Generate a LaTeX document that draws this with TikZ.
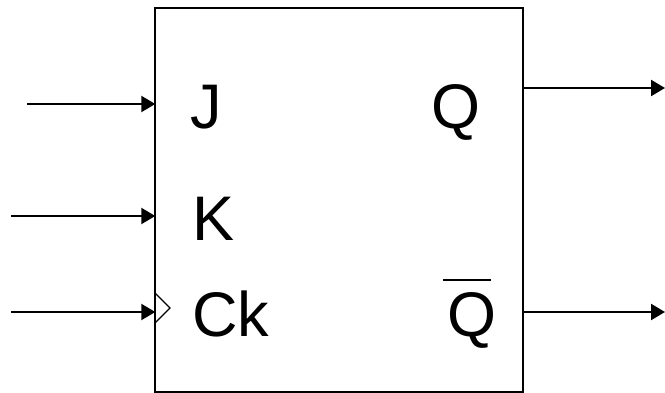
\documentclass[tikz,border=0pt]{standalone}
\usepackage{fontspec}
\setmainfont{Liberation Sans}
\usetikzlibrary{calc,arrows.meta}
\tikzset{
  sig/.style={line width=2.2pt,-{Triangle[length=14pt,width=16pt]}},
  pinlabel/.style={inner sep=0pt,anchor=base west,font=\fontsize{63}{63}\selectfont},
}
\begin{document}
\begin{tikzpicture}[x=1pt,y=-1pt]
  \useasboundingbox (0,0) rectangle (665,393);

  %% Building the flip-flop box
  \node[draw,line width=2.4pt,inner sep=0pt,minimum width=368pt,minimum height=384pt] (FF) at (339,200) {};

  %% Labels inside the box
  \node[pinlabel] (J)  at (190,129) {J};
  \node[pinlabel] (K)  at (192,241) {K};
  \node[pinlabel] (CK) at (192,337) {Ck};
  \node[pinlabel] (Q)  at (431,129) {Q};
  \node[pinlabel] (NQ) at (447,337) {Q};

  %% Bar over the second output
  \coordinate (BARL) at (443,280);
  \coordinate (BARR) at (491,280);
  \draw[line width=1.6pt] (BARL) -- (BARR);

  %% Drawing input arrows
  \foreach \name/\x/\y in {J/27/104,K/11/216,CK/11/312}
  {
    \coordinate (IN\name) at (\x,\y);
    \draw[sig,shorten >=-1.5pt] (IN\name) -- (IN\name -| FF.west);
  }

  %% Drawing output arrows
  \foreach \name/\y in {Q/88,NQ/312}
  {
    \coordinate (OUT\name) at (665,\y);
    \draw[sig] (OUT\name -| FF.east) -- (OUT\name);
  }

  %% Clock wedge
  \coordinate (CKA) at (155,293);
  \coordinate (CKB) at (170,308);
  \coordinate (CKC) at (155,323);
  \draw[line width=1.3pt] (CKA) -- (CKB) -- (CKC);
\end{tikzpicture}
\end{document}
